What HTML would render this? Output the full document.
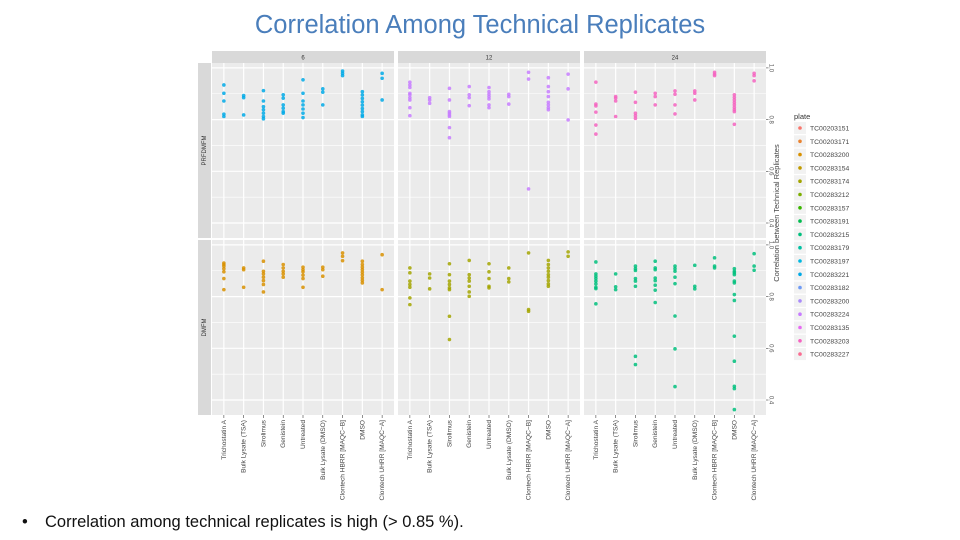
<!DOCTYPE html>
<html><head><meta charset="utf-8">
<style>
body{margin:0;background:#fff;width:960px;height:540px;overflow:hidden;font-family:"Liberation Sans",sans-serif}
#title{position:absolute;left:0;width:960px;top:11px;text-align:center;font-size:25.5px;color:#4a7ebb}
#bullet{position:absolute;left:22px;top:513px;font-size:16.5px;color:#111;white-space:nowrap}
#bullet span{display:inline-block;width:23px}
svg{position:absolute;left:0;top:0}
</style></head><body>
<div id="title">Correlation Among Technical Replicates</div>
<div id="bullet"><span>•</span>Correlation among technical replicates is high (&gt; 0.85 %).</div>
<svg id="chart" width="960" height="540"></svg>
<script>
const categories=["Trichostatin A","Bulk Lysate (TSA)","Sirolimus","Genistein","Untreated","Bulk Lysate (DMSO)","Clontech HBRR [MAQC−B]","DMSO","Clontech UHRR [MAQC−A]"];
const timeLabels=["6","12","24"];
const rowLabels=["PRFDMFM","DMFM"];
const yTicks=[0.4,0.6,0.8,1.0];
const yMinor=[0.5,0.7,0.9];
const plates=["TC00203151","TC00203171","TC00283200","TC00283154","TC00283174","TC00283212","TC00283157","TC00283191","TC00283215","TC00283179","TC00283197","TC00283221","TC00283182","TC00283200","TC00283224","TC00283135","TC00283203","TC00283227"];
const plateColors=["#F8766D","#EA8331","#D89000","#C09B00","#A3A500","#7CAE00","#39B600","#00BB4E","#00BF7D","#00C1A3","#00B8E0","#00A9E6","#6F9BF5","#A98BFA","#C77CFF","#E76BF3","#F563C0","#FA6C91"];
const panelPlate=[11,14,16,2,4,8];
const topLeft=[[.934,.902,.872,.821,.812],[.893,.885,.818],[.912,.872,.85,.838,.825,.812,.803],[.896,.883,.857,.844,.831,.825],[.954,.902,.872,.857,.841,.825,.808],[.919,.906,.857],[.988,.979,.970],[.908,.895,.882,.869,.856,.843,.831,.818,.812],[.979,.960,.876]];
const topMid=[[.945,.934,.924,.902,.896,.885,.876,.846,.815],[.885,.876,.863],[.921,.876,.831,.825,.818,.812,.769,.730],[.928,.896,.885,.854],[.924,.908,.898,.889,.880,.857,.846],[.898,.889,.860],[.983,.957,.532],[.962,.928,.908,.889,.867,.857,.846,.838],[.976,.919,.799]];
const topRight=[[.945,.860,.853,.829,.779,.744],[.889,.883,.872,.812],[.906,.867,.825,.815,.805],[.902,.889,.857],[.911,.898,.857,.822],[.911,.902,.876],[.983,.976,.970],[.896,.886,.876,.866,.857,.847,.838,.831,.782],[.979,.970,.950]];
const botLeft=[[.930,.924,.918,.908,.896,.870,.827],[.911,.904,.836],[.937,.898,.888,.875,.862,.847,.818],[.924,.911,.898,.888,.875],[.914,.904,.896,.883,.870,.836],[.914,.904,.879],[.969,.956,.939],[.937,.924,.914,.904,.894,.884,.873,.863,.853],[.962,.827]];
const botMid=[[.911,.892,.860,.847,.836,.795,.769],[.888,.872,.830],[.927,.885,.860,.847,.834,.827,.724,.634],[.940,.885,.872,.860,.840,.818,.801],[.927,.896,.870,.840,.834],[.911,.870,.857],[.969,.750,.743],[.940,.924,.911,.898,.885,.875,.862,.849,.840],[.973,.956]];
const botRight=[[.934,.888,.879,.870,.860,.849,.836,.831,.772],[.888,.838,.827],[.918,.908,.901,.870,.860,.840,.569,.537],[.937,.911,.904,.872,.862,.844,.825,.777],[.918,.908,.898,.875,.850,.725,.598,.452],[.921,.840,.830],[.950,.918,.911],[.908,.898,.892,.885,.860,.853,.808,.785,.647,.550,.453,.444,.363],[.966,.918,.902]];
const panels=[topLeft,topMid,topRight,botLeft,botMid,botRight];

const svg=document.getElementById('chart');
const NS="http://www.w3.org/2000/svg";
function mk(t,a,p){const e=document.createElementNS(NS,t);for(const k in a)e.setAttribute(k,a[k]);(p||svg).appendChild(e);return e;}
const colX=[212,398,584], PW=182;
const rowY=[63,240], PH=175;
const yMax=1.019, yMin=0.342;
function yScale(row,v){return rowY[row]+(yMax-v)/(yMax-yMin)*PH;}
function xScale(col,i){return colX[col]+(i+0.6)*PW/9.2;}

for(let r=0;r<2;r++){
  const s=mk('rect',{x:198,y:rowY[r],width:13,height:PH,fill:'#d9d9d9'});
  
  
  const t=mk('text',{x:206,y:rowY[r]+PH/2,'font-size':6,fill:'#333','text-anchor':'middle',transform:`rotate(-90 206 ${rowY[r]+PH/2})`});
  t.textContent=rowLabels[r];
  
  
}
for(let c=0;c<3;c++){
  const s=mk('rect',{x:colX[c],y:51,width:PW,height:12,fill:'#d9d9d9'});
  
  
  const t=mk('text',{x:colX[c]+PW/2,y:59.5,'font-size':6,fill:'#333','text-anchor':'middle'});
  t.textContent=timeLabels[c];
  
  
}
for(let r=0;r<2;r++)for(let c=0;c<3;c++){
  const g=mk('g',{});
  
  
  mk('rect',{x:colX[c],y:rowY[r],width:PW,height:PH,fill:'#ebebeb'},g);
  yMinor.forEach(v=>mk('line',{x1:colX[c],x2:colX[c]+PW,y1:yScale(r,v),y2:yScale(r,v),stroke:'#fff','stroke-width':0.6},g));
  yTicks.forEach(v=>mk('line',{x1:colX[c],x2:colX[c]+PW,y1:yScale(r,v),y2:yScale(r,v),stroke:'#fff','stroke-width':1.2},g));
  categories.forEach((_,i)=>mk('line',{x1:xScale(c,i),x2:xScale(c,i),y1:rowY[r],y2:rowY[r]+PH,stroke:'#fff','stroke-width':1.2},g));
  const data=panels[r*3+c], col=plateColors[panelPlate[r*3+c]];
  data.forEach((vals,i)=>vals.forEach(v=>{
    const p=mk('circle',{cx:xScale(c,i),cy:yScale(r,v),r:1.8,fill:col,'fill-opacity':0.85},g);
    
    
  }));
}
for(let r=0;r<2;r++)yTicks.forEach(v=>{
  const y=yScale(r,v);
  mk('line',{x1:766,x2:768.5,y1:y,y2:y,stroke:'#444','stroke-width':0.6});
  const t=mk('text',{x:769.5,y:y,'font-size':6,fill:'#555','text-anchor':'middle',transform:`rotate(90 769.5 ${y})`});
  t.textContent=v.toFixed(1);
  
  
});
const yt=mk('text',{x:779,y:213,'font-size':7.5,fill:'#444','text-anchor':'middle',transform:'rotate(-90 779 213)'});
yt.textContent='Correlation between Technical Replicates';


for(let c=0;c<3;c++)categories.forEach((lab,i)=>{
  const x=xScale(c,i);
  mk('line',{x1:x,x2:x,y1:415,y2:418,stroke:'#444','stroke-width':0.6});
  const t=mk('text',{x:x+2,y:420,'font-size':6.6,fill:'#444','text-anchor':'end',transform:`rotate(-90 ${x+2} 420)`});
  t.textContent=lab;
  
  
});
const lt=mk('text',{x:794,y:119,'font-size':7.5,fill:'#333'});
lt.textContent='plate';


plates.forEach((p,i)=>{
  const y=128+i*13.3;
  const g=mk('g',{});
  
  
  mk('rect',{x:794,y:y-6,width:12,height:12,fill:'#f2f2f2'},g);
  mk('circle',{cx:800,cy:y,r:1.8,fill:plateColors[i]},g);
  const t=mk('text',{x:810,y:y+2.5,'font-size':6.8,fill:'#444'},g);
  t.textContent=p;
});
</script>
</body></html>
